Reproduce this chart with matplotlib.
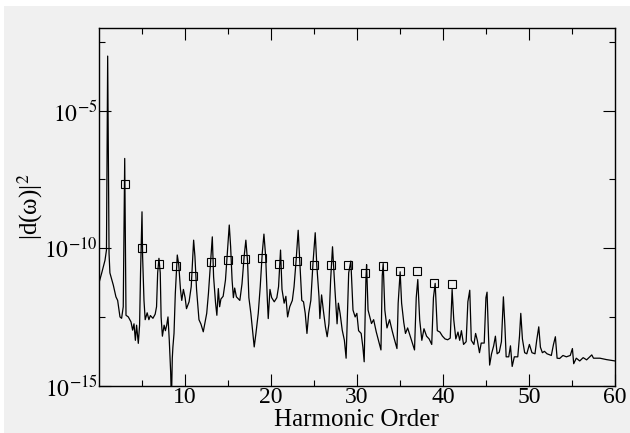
import numpy as np
import matplotlib
matplotlib.use("Agg")
import matplotlib.pyplot as plt
from matplotlib.patches import Rectangle

# Spectrum: harmonic order and log10 |d(w)|^2
harmonic = [0.0, 0.35, 0.73, 0.9, 1.04, 1.2, 1.3, 1.7, 2.0, 2.2, 2.47, 2.66, 2.85,
            3.02, 3.17, 3.44, 3.75, 3.94, 4.1, 4.26, 4.4, 4.6, 4.75, 4.86,
            5.03, 5.1, 5.26, 5.4, 5.63, 5.83, 6.0, 6.3, 6.56, 6.72, 6.85,
            7.0, 7.15, 7.25, 7.4, 7.6, 7.75, 7.9, 8.05, 8.2, 8.36, 8.45, 8.55, 8.62, 8.75, 8.9,
            9.13, 9.3, 9.5, 9.65, 9.84, 10.04, 10.2, 10.5, 10.75,
            11.03, 11.18, 11.37, 11.65, 11.88, 12.15, 12.35, 12.55, 12.75,
            13.2, 13.35, 13.58, 13.73, 13.9, 14.05, 14.2, 14.46, 14.73,
            15.17, 15.33, 15.5, 15.65, 15.8, 16.0, 16.4, 16.65, 16.9,
            17.1, 17.3, 17.45, 17.68, 17.88, 18.07, 18.27, 18.54, 18.77, 19.0,
            19.2, 19.4, 19.6, 19.7, 19.9, 20.1, 20.4, 20.7, 20.9,
            21.13, 21.3, 21.55, 21.75, 21.95, 22.2, 22.5, 22.7, 22.95,
            23.18, 23.4, 23.6, 23.8, 24.0, 24.2, 24.4, 24.65, 24.9,
            25.16, 25.35, 25.6, 25.7, 25.9, 26.1, 26.35, 26.55, 26.75, 26.95,
            27.17, 27.45, 27.7, 27.85, 28.05, 28.3, 28.55, 28.75, 28.9, 29.05,
            29.3, 29.55, 29.8, 30.0, 30.2, 30.5, 30.7, 30.85, 31.05,
            31.13, 31.3, 31.7, 31.95, 32.25, 32.55, 32.8, 32.95,
            33.06, 33.25, 33.5, 33.8, 34.1, 34.35, 34.66, 34.8,
            35.03, 35.2, 35.45, 35.65, 35.9, 36.2, 36.5, 36.7, 36.9,
            37.08, 37.3, 37.55, 37.8, 38.1, 38.4, 38.7, 38.9,
            39.1, 39.35, 39.65, 39.95, 40.25, 40.55, 40.85,
            41.07, 41.26, 41.5, 41.75, 41.95, 42.15, 42.4, 42.7, 42.9,
            43.12, 43.3, 43.6, 43.8, 44.0, 44.25, 44.45, 44.8, 45.0,
            45.13, 45.3, 45.43, 45.65, 45.9, 46.1, 46.3, 46.55, 46.8,
            47.03, 47.2, 47.35, 47.65, 47.85, 48.05, 48.3, 48.7, 48.9,
            49.05, 49.24, 49.5, 49.75, 50.05, 50.35, 50.7, 50.9,
            51.14, 51.33, 51.56, 51.8, 52.1, 52.6, 52.85,
            53.07, 53.27, 53.57, 53.95, 54.35, 54.8,
            55.05, 55.2, 55.5, 55.9, 56.3, 56.7, 57.3, 57.5, 58.25, 59.0, 60.0]
log_dw2 = [-11.3, -10.9, -10.44, -10.07, -3.02, -10.2, -10.9, -11.35, -11.77, -11.9, -12.5, -12.55, -12.13,
           -6.74, -12.44, -12.5, -12.68, -12.98, -12.75, -13.35, -12.8, -13.46, -12.8, -10.9,
           -8.68, -10.3, -11.9, -12.6, -12.35, -12.6, -12.45, -12.55, -12.4, -12.13, -10.9,
           -10.37, -10.9, -12.5, -13.2, -12.8, -13.0, -12.8, -12.5, -13.35, -14.5, -15.6, -14.0, -13.6, -13.1, -11.65,
           -10.25, -10.6, -11.5, -11.9, -11.5, -11.8, -12.2, -11.95, -11.4,
           -9.71, -10.3, -11.5, -12.6, -12.76, -13.04, -12.7, -12.37, -11.65,
           -9.59, -11.04, -12.0, -12.44, -11.47, -12.13, -11.85, -11.75, -11.16,
           -9.16, -9.95, -11.16, -11.8, -11.45, -11.77, -11.9, -11.3, -10.3,
           -9.71, -10.5, -11.8, -12.37, -12.98, -13.59, -13.1, -12.37, -11.4, -10.2,
           -9.49, -10.3, -11.9, -12.56, -11.5, -11.8, -11.95, -11.8, -11.4,
           -10.07, -11.5, -12.0, -11.75, -12.5, -12.13, -11.9, -11.4, -10.4,
           -9.35, -10.65, -11.9, -11.95, -12.37, -13.1, -12.37, -11.9, -10.55,
           -9.44, -10.65, -11.77, -12.56, -11.7, -12.25, -12.87, -13.22, -12.75, -11.16,
           -9.95, -11.5, -12.75, -12.0, -12.37, -12.98, -13.35, -14.0, -12.4, -10.9,
           -10.47, -12.25, -12.5, -12.37, -13.0, -13.1, -13.6, -14.13, -11.16,
           -10.6, -12.25, -12.74, -12.6, -13.04, -13.4, -13.7, -11.0,
           -10.56, -12.25, -12.9, -12.6, -13.0, -13.3, -13.65, -12.0,
           -10.86, -12.0, -12.7, -13.1, -12.9, -13.2, -13.5, -13.7, -11.8,
           -11.14, -12.6, -13.35, -12.93, -13.2, -13.3, -13.5, -11.8,
           -11.28, -13.0, -13.05, -13.2, -13.3, -13.33, -13.27,
           -11.5, -12.6, -13.3, -13.05, -13.35, -13.0, -13.5, -13.4, -11.95,
           -11.53, -13.35, -13.5, -13.1, -13.35, -13.8, -13.45, -13.45, -11.8,
           -11.6, -13.2, -14.25, -13.84, -13.55, -13.2, -13.84, -13.78, -13.4,
           -11.77, -12.8, -13.95, -13.95, -13.55, -14.3, -13.95, -13.95, -13.2,
           -12.37, -13.3, -13.8, -13.84, -13.5, -13.8, -13.84, -13.35,
           -12.86, -13.6, -13.8, -13.75, -13.84, -13.9, -13.5,
           -13.22, -14.0, -14.01, -13.9, -13.95, -13.9,
           -13.65, -14.2, -14.0, -14.1, -13.98, -14.06, -13.88, -14.0, -14.0, -14.05, -14.1]

# Open squares at odd harmonics
sq_order = [3, 5, 7, 9, 11, 13, 15, 17, 19, 21, 23, 25, 27, 29, 31, 33, 35, 37, 39, 41]
sq_log = [-7.68, -10.0, -10.56, -10.64, -11.02, -10.5, -10.44, -10.41, -10.35, -10.58,
          -10.46, -10.6, -10.63, -10.62, -10.9, -10.64, -10.82, -10.84, -11.27, -11.3]

xticks = [10, 20, 30, 40, 50, 60]
yticks = [1e-15, 1e-10, 1e-5]
ytick_labels = [r"$10^{-15}$", r"$10^{-10}$", r"$10^{-5}$"]

plt.rcParams["font.family"] = "serif"
plt.rcParams["font.serif"] = ["Liberation Serif"]
plt.rcParams["mathtext.fontset"] = "stix"
plt.rcParams["font.size"] = 17

bg = "#f0f0f0"
fig = plt.figure(figsize=(6.3, 4.33), dpi=100, facecolor=bg)
# white margin along top and left edge of the original image
fig.add_artist(Rectangle((0, 1 - 6 / 433), 1, 6 / 433, transform=fig.transFigure,
                         facecolor="white", edgecolor="none", zorder=-1))
fig.add_artist(Rectangle((0, 0), 4 / 630, 1, transform=fig.transFigure,
                         facecolor="white", edgecolor="none", zorder=-1))

ax = fig.add_axes([0.1567, 0.1092, 0.8195, 0.8261])
ax.set_facecolor(bg)

ax.plot(harmonic, 10 ** np.array(log_dw2), color="black", lw=0.9)
ax.plot(sq_order, 10 ** np.array(sq_log), ls="none", marker="s", ms=5.5,
        mfc="none", mec="black", mew=0.8)

ax.set_yscale("log")
ax.set_xlim(0, 60)
ax.set_ylim(1e-15, 1e-2)

ax.set_xticks(xticks)
ax.set_xticks([5, 15, 25, 35, 45, 55], minor=True)
ax.set_yticks(yticks)
ax.set_yticklabels(ytick_labels)
ax.set_yticks([10 ** -12.5, 10 ** -7.5, 10 ** -2.5], minor=True)
ax.yaxis.set_minor_formatter(plt.NullFormatter())

ax.tick_params(which="both", direction="in", top=True, right=True, width=0.8)
ax.tick_params(which="major", length=8.5)
ax.tick_params(which="minor", length=4.5)
ax.tick_params(axis="x", pad=1, labelsize=17)
ax.tick_params(axis="y", pad=1, labelsize=17)
for s in ax.spines.values():
    s.set_linewidth(1.0)

ax.set_xlabel("Harmonic Order", fontsize=18)
ax.xaxis.set_label_coords(0.5, -0.065)
ax.set_ylabel(r"|d(ω)|$^2$", fontsize=18)
ax.yaxis.set_label_coords(-0.105, 0.5)

plt.savefig("out.png", dpi=100, facecolor=bg)
